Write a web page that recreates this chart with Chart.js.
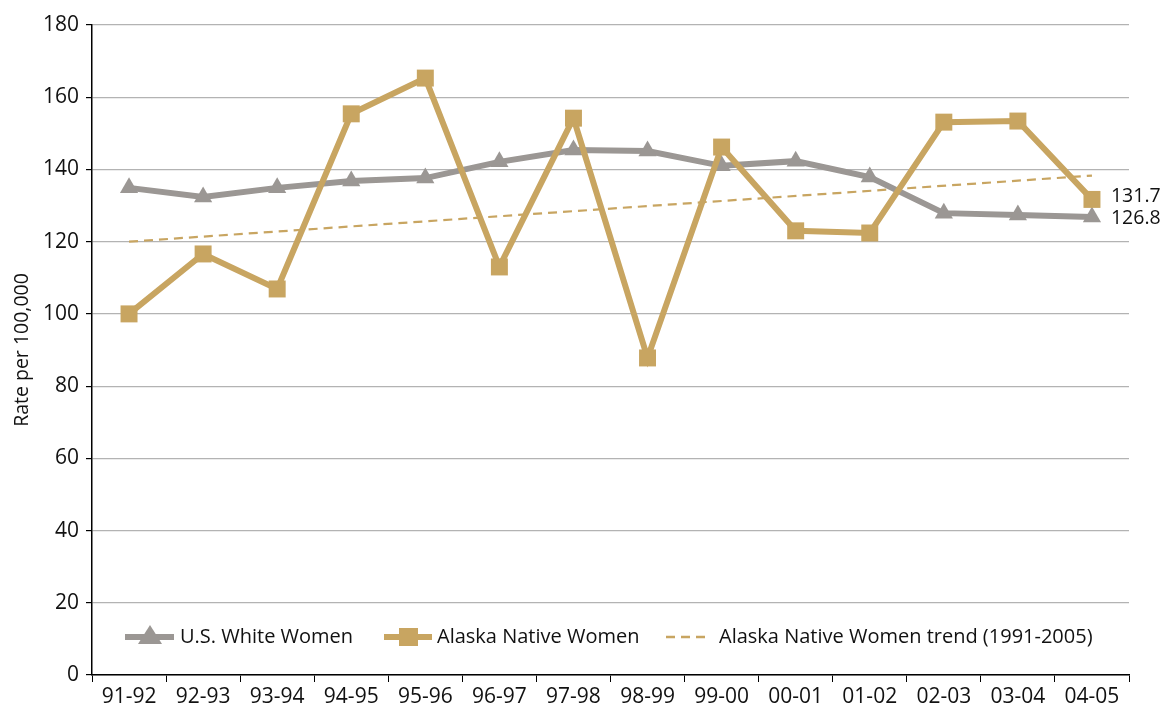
<!DOCTYPE html>
<html>
<head>
<meta charset="utf-8">
<script src="https://cdn.jsdelivr.net/npm/chart.js@4"></script>
<style>
html,body{margin:0;padding:0;background:#fff;}
#wrap{width:1168px;height:707px;position:relative;}
</style>
</head>
<body>
<div id="wrap"><canvas id="c" width="1168" height="707"></canvas></div>
<script>
const categories = ["91-92","92-93","93-94","94-95","95-96","96-97","97-98","98-99","99-00","00-01","01-02","02-03","03-04","04-05"];
const usWhite = [134.9,132.4,134.9,136.8,137.6,142.1,145.4,145.1,141.0,142.3,137.9,127.9,127.4,126.8];
const alaskaNative = [100.0,116.6,106.9,155.4,165.3,113.0,154.2,87.8,146.2,123.0,122.4,153.1,153.4,131.7];
const trend = [120.0,null,null,null,null,null,null,null,null,null,null,null,null,138.3];
const yTicks = [0,20,40,60,80,100,120,140,160,180];
const seriesNames = ["U.S. White Women","Alaska Native Women","Alaska Native Women trend (1991-2005)"];
const endLabels = ["126.8","131.7"];

const GOLD = "#C8A561";
const GRAY = "#9B9794";
const FONT = "'Open Sans', 'Noto Sans', sans-serif";

const legendPlugin = {
  id: "customLegend",
  afterDraw(chart) {
    const ctx = chart.ctx;
    const y = 637;
    ctx.save();
    ctx.font = "20px " + FONT;
    ctx.textBaseline = "middle";
    // item 1
    ctx.strokeStyle = GRAY; ctx.lineWidth = 6; ctx.setLineDash([]);
    ctx.beginPath(); ctx.moveTo(125, y); ctx.lineTo(174, y); ctx.stroke();
    ctx.fillStyle = GRAY;
    ctx.beginPath(); ctx.moveTo(150, y - 12); ctx.lineTo(162, y + 7); ctx.lineTo(138, y + 7); ctx.closePath(); ctx.fill();
    ctx.fillStyle = "#111";
    ctx.fillText(seriesNames[0], 180, y);
    // item 2
    ctx.strokeStyle = GOLD;
    ctx.beginPath(); ctx.moveTo(384, y); ctx.lineTo(432, y); ctx.stroke();
    ctx.fillStyle = GOLD;
    ctx.fillRect(399, y - 9, 19, 18);
    ctx.fillStyle = "#111";
    ctx.fillText(seriesNames[1], 437, y);
    // item 3
    ctx.strokeStyle = GOLD; ctx.lineWidth = 2.5; ctx.setLineDash([9, 6]);
    ctx.beginPath(); ctx.moveTo(666, y); ctx.lineTo(711, y); ctx.stroke();
    ctx.setLineDash([]);
    ctx.fillStyle = "#111";
    ctx.fillText(seriesNames[2], 719, y);
    ctx.restore();
  }
};

const endLabelPlugin = {
  id: "endLabels",
  afterDatasetsDraw(chart) {
    const ctx = chart.ctx;
    ctx.save();
    ctx.font = "19.5px " + FONT;
    ctx.textBaseline = "middle";
    ctx.fillStyle = "#111";
    const m0 = chart.getDatasetMeta(0).data;
    const m1 = chart.getDatasetMeta(1).data;
    const p0 = m0[m0.length - 1], p1 = m1[m1.length - 1];
    ctx.fillText(endLabels[1], p1.x + 19, p1.y - 3);
    ctx.fillText(endLabels[0], p0.x + 19, p0.y + 1);
    ctx.restore();
  }
};

new Chart(document.getElementById("c"), {
  type: "line",
  data: {
    labels: categories,
    datasets: [
      { label: seriesNames[0], data: usWhite, borderColor: GRAY, backgroundColor: GRAY, borderWidth: 6,
        pointStyle: "triangle", pointRadius: 10.5, pointBorderWidth: 0, tension: 0, order: 2 },
      { label: seriesNames[1], data: alaskaNative, borderColor: GOLD, backgroundColor: GOLD, borderWidth: 6,
        pointStyle: "rect", pointRadius: 12, pointBorderWidth: 0, tension: 0, order: 1 },
      { label: seriesNames[2], data: trend, borderColor: GOLD, borderWidth: 2.2, borderDash: [9, 6],
        pointRadius: 0, spanGaps: true, tension: 0, order: 3 }
    ]
  },
  options: {
    responsive: false,
    animation: false,
    layout: { padding: { left: 0, right: 39, top: 25, bottom: 0 } },
    plugins: { legend: { display: false }, tooltip: { enabled: false } },
    scales: {
      x: {
        offset: true,
        grid: { display: true, drawOnChartArea: false, drawTicks: true, tickLength: 7, color: "#000", offset: true },
        border: { color: "#000", width: 1.5 },
        ticks: { color: "#111", font: { family: FONT, size: 21 }, padding: 2, maxRotation: 0, autoSkip: false },
        afterFit(s) { s.height = 32; }
      },
      y: {
        min: 0, max: 180,
        afterBuildTicks(s) { s.ticks = yTicks.map(v => ({ value: v })); },
        grid: { color: "#B3B3B3", lineWidth: 1.2, tickLength: 6, tickColor: "#000" },
        border: { color: "#000", width: 1.5 },
        ticks: { color: "#111", font: { family: FONT, size: 21 }, padding: 7 },
        title: { display: true, text: "Rate per 100,000", color: "#111", font: { family: FONT, size: 19.5 }, padding: { top: 11, bottom: 0 } },
        afterFit(s) { s.width = 92; }
      }
    }
  },
  plugins: [legendPlugin, endLabelPlugin]
});
</script>
</body>
</html>
